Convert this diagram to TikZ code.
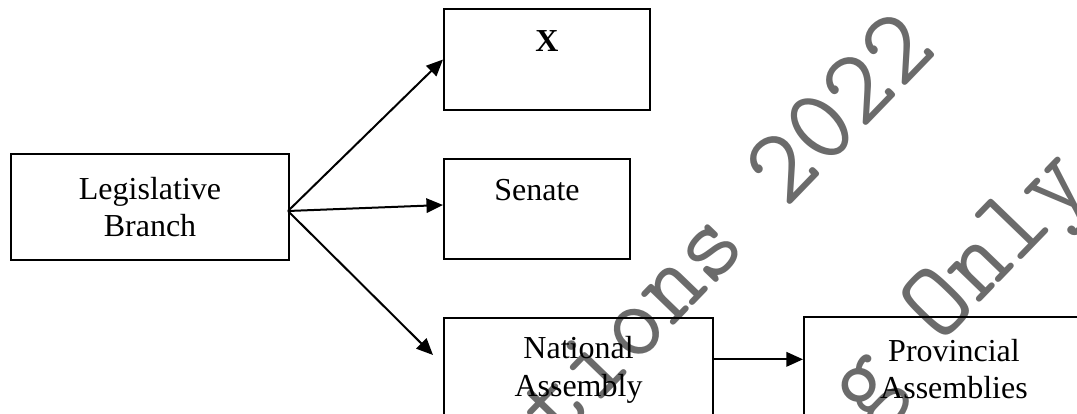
\documentclass[tikz,border=0pt]{standalone}
\usepackage{fontspec}
\setmainfont{Liberation Serif}
\usetikzlibrary{arrows.meta}

\tikzset{
  govbox/.style={draw,rectangle,anchor=north west,align=center,inner sep=0pt},
  govarrow/.style={-{Triangle[length=6.2pt,width=5.4pt]}},
  wmark/.style={anchor=base west,rotate=46,inner sep=0pt,text=black!58,
    font=\ttfamily\fontsize{40}{40}\selectfont}
}

\begin{document}
\begin{tikzpicture}[x=0.375pt,y=-0.375pt,line width=.75pt,font=\fontsize{12}{14}\selectfont]
\useasboundingbox (0,0) rectangle (1077,414);
\clip (0,0) rectangle (1077,414);
\node[wmark] (wmA) at (557,447) {tions 2022};
\node[wmark] (wmB) at (863,424) {g Only};
\node[govbox,minimum width=104.25pt,minimum height=39.75pt] (leg) at (10,153) {Legislative\\Branch};
\node[govbox,minimum width=77.25pt,minimum height=37.9pt] (xbox) at (443,8) {\textbf{X}\\\mbox{}};
\node[govbox,minimum width=69.75pt,minimum height=37.5pt] (senate) at (443,158) {Senate\\\mbox{}};
\node[govbox,minimum width=100.9pt,minimum height=39pt] (natl) at (443,317) {National\\Assembly};
\node[govbox,minimum width=112.5pt,minimum height=39pt] (prov) at (803,316) {Provincial\\Assemblies};
\coordinate (fork) at (288,211);
\coordinate (natTip) at (433,355);
\draw[govarrow] (fork)--(xbox.west);
\draw[govarrow] (fork)--([yshift=1.5pt]senate.west);
\draw[govarrow] (fork)--(natTip);
\draw[govarrow] ([yshift=4pt]natl.east)--([yshift=4pt]natl.east -| prov.west);
\end{tikzpicture}
\end{document}
